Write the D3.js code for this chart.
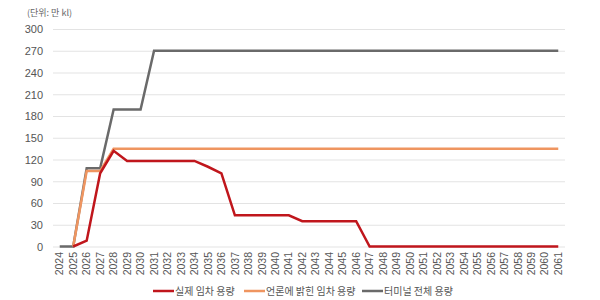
<!DOCTYPE html>
<html>
<head>
<meta charset="utf-8">
<script src="https://cdn.jsdelivr.net/npm/d3@7"></script>
<style>
	body { margin: 0; background: #fff; }
	svg { display: block; font-family: 'Noto Sans CJK KR', 'Noto Sans', sans-serif; }
	.tick text { fill: #555; }
	.gridline line { stroke: #e3e3e3; stroke-width: 1; }
</style>
</head>
<body>
<div id="chart"></div>
<script>
// data (만 kl)
const years = d3.range(2024, 2062).map(String);
const actual = [null, 0, 8, 101, 132, 118, 118, 118, 118, 118, 118, 110, 101, 43, 43, 43, 43, 43, 35, 35, 35, 35, 35, 0, 0, 0, 0, 0, 0, 0, 0, 0, 0, 0, 0, 0, 0, 0];
const announced = [null, 0, 104, 104, 135, 135, 135, 135, 135, 135, 135, 135, 135, 135, 135, 135, 135, 135, 135, 135, 135, 135, 135, 135, 135, 135, 135, 135, 135, 135, 135, 135, 135, 135, 135, 135, 135, 135];
const terminal = [0, 0, 108, 108, 189, 189, 189, 270, 270, 270, 270, 270, 270, 270, 270, 270, 270, 270, 270, 270, 270, 270, 270, 270, 270, 270, 270, 270, 270, 270, 270, 270, 270, 270, 270, 270, 270, 270];
const yTicks = [0, 30, 60, 90, 120, 150, 180, 210, 240, 270, 300];

const series = [
	{ name: '실제 임차 용량', values: actual, colour: '#c0161c' },
	{ name: '언론에 밝힌 임차 용량', values: announced, colour: '#ef9560' },
	{ name: '터미널 전체 용량', values: terminal, colour: '#6a6a6a' }
];
// draw order: grey at the back, red on top
const drawOrder = [2, 1, 0];

const width = 600, height = 300;
const margin = { top: 29, right: 35, bottom: 54, left: 53 };

const svg = d3.select('#chart')
	.append('svg')
	.attr('width', width)
	.attr('height', height);

const x = d3.scaleBand()
	.domain(years)
	.range([margin.left, width - margin.right]);

const y = d3.scaleLinear()
	.domain([0, 300])
	.range([height - margin.bottom + 0.5, margin.top]);

// unit label
svg.append('text')
	.attr('x', 27)
	.attr('y', 16)
	.attr('font-size', 9)
	.attr('fill', '#666')
	.text('(단위: 만 kl)');

// gridlines
svg.append('g')
	.attr('class', 'gridline')
	.attr('transform', `translate(${margin.left},0)`)
	.call(d3.axisLeft(y)
		.tickValues(yTicks)
		.tickSize(-(width - margin.left - margin.right))
		.tickFormat('')
	)
	.call(g => g.select('.domain').remove());

// y axis labels
svg.append('g')
	.attr('transform', `translate(${margin.left - 8},0)`)
	.call(d3.axisLeft(y).tickValues(yTicks).tickSize(0))
	.call(g => g.select('.domain').remove())
	.call(g => g.selectAll('text').attr('font-size', 11).attr('dy', '0.35em').attr('x', -2));

// x axis labels, rotated
svg.append('g')
	.attr('transform', `translate(0,${height - margin.bottom + 4})`)
	.call(d3.axisBottom(x).tickSize(0))
	.call(g => g.select('.domain').remove())
	.call(g => g.selectAll('text')
		.attr('font-size', 10.5)
		.attr('text-anchor', 'end')
		.attr('transform', 'rotate(-90)')
		.attr('x', -2)
		.attr('y', 0)
		.attr('dy', '0.35em'));

// lines
const line = d3.line()
	.defined(d => d.v !== null)
	.x(d => x(d.year) + x.bandwidth() / 2)
	.y(d => y(d.v));

drawOrder.forEach(i => {
	const s = series[i];
	svg.append('path')
		.datum(years.map((year, j) => ({ year, v: s.values[j] })))
		.attr('fill', 'none')
		.attr('stroke', s.colour)
		.attr('stroke-width', 2.5)
		.attr('stroke-linejoin', 'miter')
		.attr('d', line);
});

// legend
const legendX = [153, 244, 362];
const legend = svg.append('g')
	.attr('transform', `translate(0,${height - 9})`);

series.forEach((s, i) => {
	const g = legend.append('g').attr('transform', `translate(${legendX[i]},0)`);
	g.append('line')
		.attr('x1', 0).attr('x2', 21)
		.attr('stroke', s.colour)
		.attr('stroke-width', 2.5);
	g.append('text')
		.attr('x', 22)
		.attr('dy', '0.35em')
		.attr('font-size', 10)
		.attr('fill', '#555')
		.text(s.name);
});
</script>
</body>
</html>
